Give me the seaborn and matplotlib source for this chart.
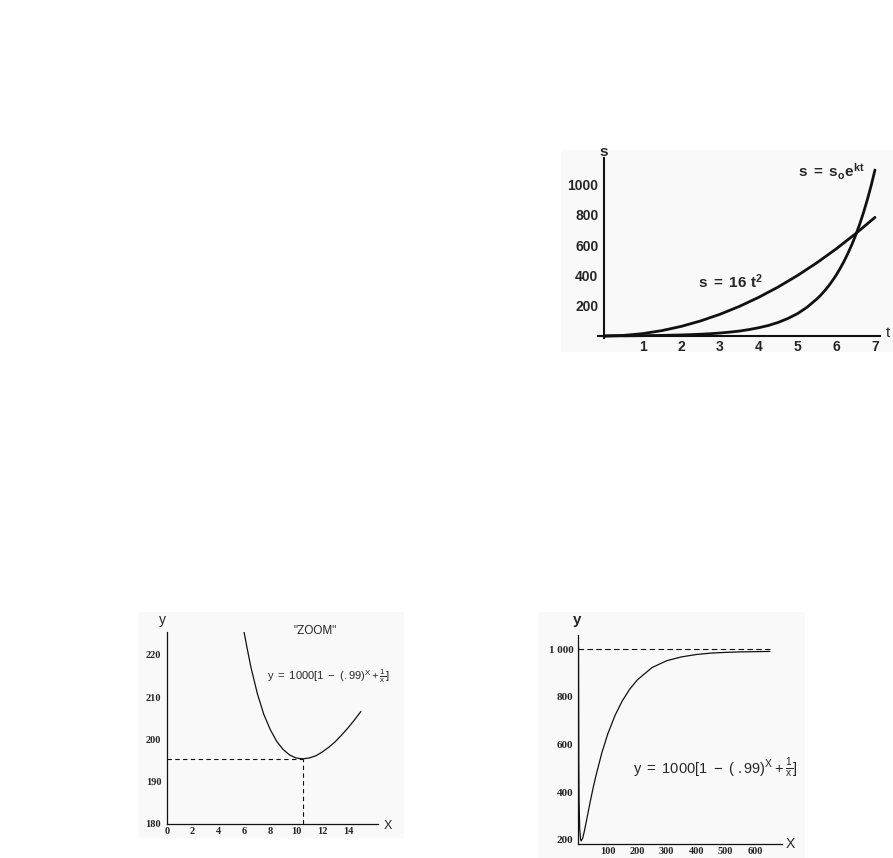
import pandas as pd
import matplotlib
matplotlib.use('Agg')
import matplotlib.pyplot as plt
import seaborn as sns
from matplotlib.patches import Rectangle

# Grafik atas: s = 16 t^2 dan s = s0 e^kt
t_kuadrat = [0, 0.5, 1, 1.5, 2, 2.5, 3, 3.5, 4, 4.5, 5, 5.5, 6, 6.5, 7]
s_kuadrat = [0, 4, 16, 36, 64, 100, 144, 196, 256, 324, 400, 484, 576, 676, 784]
t_eksp = [0, 0.25, 0.5, 0.75, 1, 1.25, 1.5, 1.75, 2, 2.25, 2.5, 2.75, 3, 3.25, 3.5,
          3.75, 4, 4.25, 4.5, 4.75, 5, 5.25, 5.5, 5.6, 5.7, 5.8, 5.9, 6.0, 6.1,
          6.2, 6.3, 6.4, 6.5, 6.6, 6.7, 6.8, 6.9, 7.0]
s_eksp = [1, 1.3, 1.6, 2.1, 2.7, 3.5, 4.5, 5.8, 7.4, 9.5, 12.2, 15.6, 20, 26, 33,
          43, 55, 70, 90, 116, 148, 191, 245, 270, 299, 330, 365, 403, 446,
          493, 545, 602, 665, 735, 812, 898, 992, 1097]
t_ticks = [1, 2, 3, 4, 5, 6, 7]
s_ticks = [200, 400, 600, 800, 1000]

# Grafik kiri bawah: "ZOOM"
zoom_x = [5.9, 6.2, 6.5, 7, 7.5, 8, 8.5, 9, 9.5, 10, 10.5, 11, 11.5, 12, 12.5,
          13, 13.5, 14, 14.5, 15]
zoom_y = [226.5, 221.7, 217.1, 210.8, 205.9, 202.3, 199.5, 197.6, 196.3, 195.6,
          195.4, 195.6, 196.1, 197.0, 198.1, 199.4, 201.0, 202.7, 204.6, 206.6]
zoom_min_x = 10.5
zoom_min_y = 195.4
zoom_xticks = [0, 2, 4, 6, 8, 10, 12, 14]
zoom_yticks = [180, 190, 200, 210, 220]

# Grafik kanan bawah: tampilan penuh
full_x = [1, 2, 3, 5, 8, 10, 15, 20, 30, 40, 50, 60, 80, 100, 125, 150, 175, 200,
          250, 300, 350, 400, 450, 500, 550, 600, 650]
full_y = [1010, 520, 363, 249, 202, 196, 207, 232, 293, 356, 415, 469, 565, 644,
          723, 785, 833, 871, 923, 952, 968, 978, 984, 987, 989, 990, 991]
asimtot = 1000
full_xticks = [100, 200, 300, 400, 500, 600]
full_yticks = [200, 400, 600, 800, 1000]
full_ylabels = ['200', '400', '600', '800', '1 000']

df_kuadrat = pd.DataFrame({'t': t_kuadrat, 's': s_kuadrat})
df_eksp = pd.DataFrame({'t': t_eksp, 's': s_eksp})
df_zoom = pd.DataFrame({'x': zoom_x, 'y': zoom_y})
df_full = pd.DataFrame({'x': full_x, 'y': full_y})

sns.set_style('white')
plt.rcParams['font.family'] = ['Liberation Sans', 'DejaVu Sans']
plt.rcParams['mathtext.fontset'] = 'custom'
plt.rcParams['mathtext.rm'] = 'Liberation Sans'
plt.rcParams['mathtext.it'] = 'Liberation Sans'
plt.rcParams['mathtext.bf'] = 'Liberation Sans:bold'

W, H = 893, 858
fig = plt.figure(figsize=(W / 100, H / 100), dpi=100)
fig.patch.set_facecolor('white')


def kotak(l, t, r, b):
    # piksel -> pecahan figure
    return [l / W, 1 - b / H, (r - l) / W, (b - t) / H]


def latar(l, t, r, b):
    x0, y0, w, h = kotak(l, t, r, b)
    fig.add_artist(Rectangle((x0, y0), w, h, transform=fig.transFigure,
                             facecolor='#f9f9f9', edgecolor='none', zorder=0))


latar(561, 150, 893, 352)
latar(138, 612, 404, 838)
latar(538, 612, 805, 858)

serif = dict(fontfamily='Liberation Serif', fontweight='bold')

# ---- grafik atas ----
ax1 = fig.add_axes(kotak(598, 158, 880, 340))
ax1.set_facecolor('none')
sns.lineplot(data=df_kuadrat, x='t', y='s', ax=ax1, color='#111111', lw=2.0)
sns.lineplot(data=df_eksp, x='t', y='s', ax=ax1, color='#111111', lw=2.0)
ax1.set_xlim(-0.15, 7.13)
ax1.set_ylim(-26, 1176)
for sp in ['top', 'right']:
    ax1.spines[sp].set_visible(False)
ax1.spines['left'].set_position(('data', 0))
ax1.spines['bottom'].set_position(('data', 0))
ax1.spines['left'].set_bounds(-15, 1176)
for sp in ['left', 'bottom']:
    ax1.spines[sp].set_linewidth(1.5)
    ax1.spines[sp].set_color('#111111')
ax1.set_xticks(t_ticks)
ax1.set_yticks(s_ticks)
ax1.set_xticklabels([str(v) for v in t_ticks], fontweight='bold', fontsize=10)
ax1.set_yticklabels([str(v) for v in s_ticks], fontweight='bold', fontsize=10)
ax1.tick_params(axis='x', direction='inout', length=5, width=1.2, pad=0)
ax1.tick_params(axis='y', direction='out', length=3, width=1.2, pad=1)
ax1.set_xlabel('')
ax1.set_ylabel('')
ax1.text(0, 1215, 's', fontsize=11, fontweight='bold', ha='center', va='center')
ax1.text(7.28, 22, 't', fontsize=11, ha='left', va='center')
ax1.text(5.87, 1084, r'$\mathbf{s\ =\ s_o e^{kt}}$', fontsize=11,
         ha='center', va='center')
ax1.text(3.26, 360, r'$\mathbf{s\ =\ 16\ t^2}$', fontsize=11,
         ha='center', va='center')

# ---- grafik kiri bawah ----
ax2 = fig.add_axes(kotak(166.8, 632.4, 377.7, 824))
ax2.set_facecolor('none')
sns.lineplot(data=df_zoom, x='x', y='y', ax=ax2, color='#111111', lw=0.9)
ax2.hlines(zoom_min_y, 0, zoom_min_x, colors='#111111', lw=0.8,
           linestyles=(0, (4, 3)))
ax2.vlines(zoom_min_x, zoom_yticks[0], zoom_min_y, colors='#111111', lw=0.8,
           linestyles=(0, (4, 3)))
ax2.set_xlim(0, 16.3)
ax2.set_ylim(180, 225.3)
for sp in ['top', 'right']:
    ax2.spines[sp].set_visible(False)
for sp in ['left', 'bottom']:
    ax2.spines[sp].set_linewidth(0.9)
    ax2.spines[sp].set_color('#111111')
ax2.set_xticks(zoom_xticks)
ax2.set_yticks(zoom_yticks)
ax2.set_xticklabels([str(v) for v in zoom_xticks], fontsize=7.5, **serif)
ax2.set_yticklabels([str(v) for v in zoom_yticks], fontsize=7.5, **serif)
ax2.tick_params(axis='x', direction='out', length=2, width=0.8, pad=0.5)
ax2.tick_params(axis='y', direction='out', length=2, width=0.8, pad=2)
ax2.set_xlabel('')
ax2.set_ylabel('')
ax2.text(-0.3, 228.3, 'y', fontsize=10, ha='center', va='center')
ax2.text(17.1, 179.6, 'X', fontsize=9, ha='center', va='center')
ax2.text(11.45, 225.6, '"ZOOM"', fontsize=8.5, ha='center', va='center')
ax2.text(7.74, 215.0, r'$\mathrm{y\ =\ 1000[1\ -\ (.99)^X+\frac{1}{x}]}$',
         fontsize=8, ha='left', va='center')

# ---- grafik kanan bawah ----
ax3 = fig.add_axes(kotak(578.2, 635, 781.7, 844))
ax3.set_facecolor('none')
sns.lineplot(data=df_full, x='x', y='y', ax=ax3, color='#111111', lw=0.9)
ax3.hlines(asimtot, 0, full_x[-1], colors='#111111', lw=0.8,
           linestyles=(0, (5, 3)))
ax3.set_xlim(0, 690)
ax3.set_ylim(183.2, 1059.9)
for sp in ['top', 'right']:
    ax3.spines[sp].set_visible(False)
for sp in ['left', 'bottom']:
    ax3.spines[sp].set_linewidth(0.9)
    ax3.spines[sp].set_color('#111111')
ax3.set_xticks(full_xticks)
ax3.set_yticks(full_yticks)
ax3.set_xticklabels([str(v) for v in full_xticks], fontsize=7.5, **serif)
ax3.set_yticklabels(full_ylabels, fontsize=8, **serif)
ax3.tick_params(axis='x', direction='out', length=2, width=0.8, pad=0.5)
ax3.tick_params(axis='y', direction='out', length=2, width=0.8, pad=1.5)
ax3.set_xlabel('')
ax3.set_ylabel('')
ax3.text(-5, 1123, 'y', fontsize=11, fontweight='bold', ha='center', va='center')
ax3.text(718, 184, 'X', fontsize=10, ha='center', va='center')
ax3.text(187, 502, r'$\mathrm{y\ =\ 1000[1\ -\ (\ .99)^X+\frac{1}{x}]}$',
         fontsize=10.5, ha='left', va='center')

fig.savefig('out.png', dpi=100)
